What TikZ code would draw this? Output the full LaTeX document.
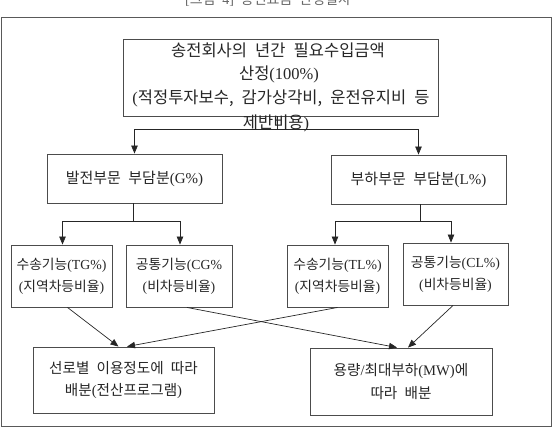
\documentclass[tikz,border=0pt]{standalone}
\usepackage{fontspec}
\setmainfont{Noto Sans CJK KR}[WordSpace=2.2]
\newfontfamily\lat{Liberation Serif}
\usetikzlibrary{arrows.meta}
\begin{document}
\begin{tikzpicture}[x=1pt,y=-1pt,
  box/.style={draw=black!70, line width=0.9pt, inner sep=0pt, align=center, text=black!85},
  fmid/.style={font=\fontsize{15}{22}\selectfont},
  fsmall/.style={font=\fontsize{13.8}{22}\selectfont},
  fbot/.style={font=\fontsize{14.6}{22.5}\selectfont},
  txt/.style={inner sep=0pt, font=\fontsize{16.5}{23}\selectfont, text=black!85},
  arr/.style={-{Triangle[length=8pt,width=6.5pt]}, line width=0.7pt, draw=black!85},
  ln/.style={line width=0.7pt, draw=black!85}]
\useasboundingbox (0,0) rectangle (553,429);
\node[txt, anchor=base, font=\fontsize{14}{16}\selectfont, text=black!60] (title) at (268,4) {{\lat[}그림 {\lat 4]} 송전요금 산정절차};
\draw[black!65, line width=1pt] (1,17) rectangle (551,426);
% top box
\node[box, minimum width=315pt, minimum height=77pt] (top) at (280.5,77.5) {};
\node[txt] (t1) at (278,50) {송전회사의 년간 필요수입금액};
\node[txt] (t2) at (279,74) {산정{\lat(100\%)}};
\node[txt] (t3) at (281,98) {{\lat(}적정투자보수, 감가상각비, 운전유지비 등};
\node[txt] (t4) at (276,123) {제반비용{\lat)}};
% second level
\node[box, fmid, minimum width=175pt, minimum height=49pt] (G) at (134.5,178.5) {발전부문 부담분{\lat(G\%)}};
\node[box, fmid, minimum width=175pt, minimum height=49pt] (L) at (418.5,179.5) {부하부문 부담분{\lat(L\%)}};
% third level
\node[box, fsmall, minimum width=101pt, minimum height=62pt] (TG) at (61.5,276) {수송기능{\lat(TG\%)}\\{\lat(}지역차등비율{\lat)}};
\node[box, fsmall, minimum width=106pt, minimum height=62pt] (CG) at (179,276) {공통기능{\lat(CG\%}\\{\lat(}비차등비율{\lat)}};
\node[box, fsmall, minimum width=101pt, minimum height=62pt] (TL) at (337.5,276) {수송기능{\lat(TL\%)}\\{\lat(}지역차등비율{\lat)}};
\node[box, fsmall, minimum width=105pt, minimum height=62pt] (CL) at (455.5,274) {공통기능{\lat(CL\%)}\\{\lat(}비차등비율{\lat)}};
% bottom
\node[box, fbot, minimum width=181pt, minimum height=66pt] (BL) at (123.5,380) {선로별 이용정도에 따라\\배분{\lat(}전산프로그램{\lat)}};
\node[box, fbot, minimum width=182pt, minimum height=67pt] (BR) at (401,381.5) {용량{\lat/}최대부하{\lat(MW)}에\\따라 배분};
% connectors
\coordinate (h1) at (277,129);
\draw[ln] (top.south -| h1) -- (h1);
\draw[arr] (h1) -| (G.north);
\draw[arr] (h1) -| (L.north);
\coordinate (h2) at (133,221);
\draw[ln] (G.south -| h2) -- (h2);
\draw[arr] (h2) -| ([xshift=1pt]TG.north);
\draw[arr] (h2) -| ([xshift=1pt]CG.north);
\coordinate (h3) at (420,221);
\draw[ln] (L.south -| h3) -- (h3);
\draw[arr] (h3) -| ([xshift=-2.5pt]TL.north);
\draw[arr] (h3) -| ([xshift=-4.5pt]CL.north);
\draw[arr] ([xshift=6pt]TG.south) -- ([xshift=-5pt]BL.north);
\draw[arr] ([xshift=8pt]CG.south) -- ([xshift=-4pt]BR.north);
\draw[arr] ([xshift=0pt]TL.south) -- ([xshift=3.5pt]BL.north);
\draw[arr] ([xshift=-2.5pt]CL.south) -- ([xshift=7pt]BR.north);
\end{tikzpicture}
\end{document}
